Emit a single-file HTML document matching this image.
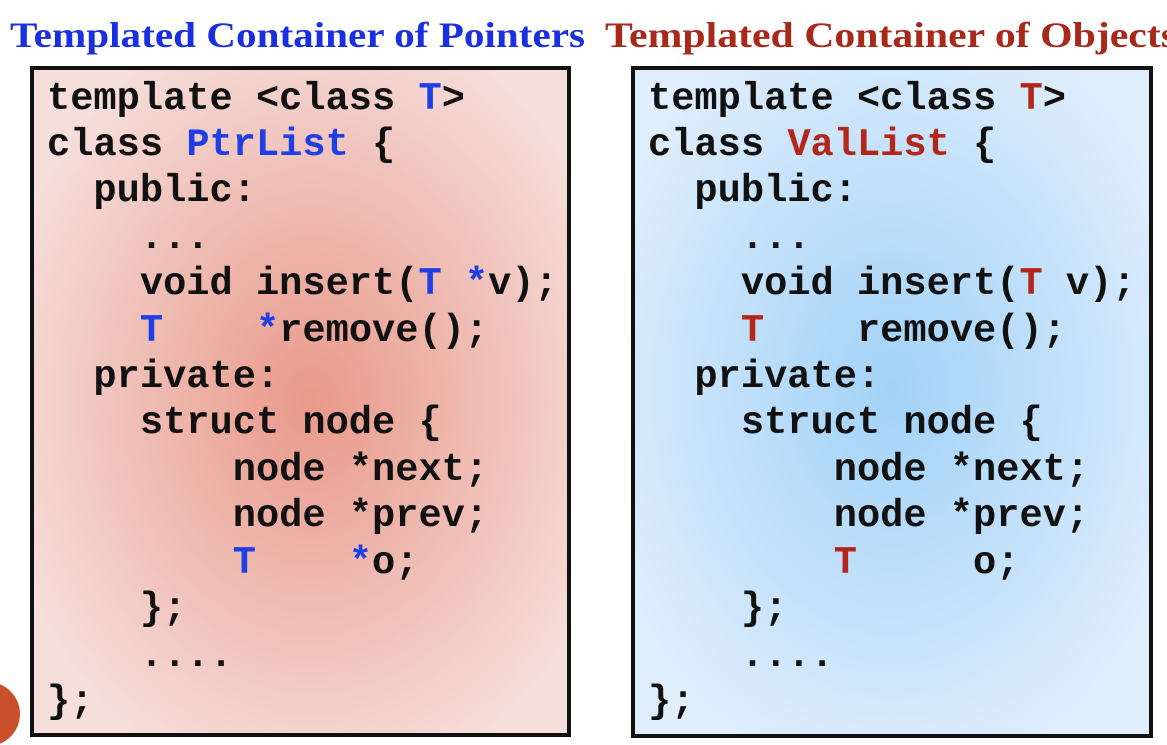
<!DOCTYPE html>
<html><head><meta charset="utf-8"><style>
html,body{margin:0;padding:0;background:#fff;}
svg{display:block}
.c{font-family:"Liberation Mono",monospace;font-weight:bold;font-size:38.7px;fill:#111}
.b{fill:#1f3fe6}.r{fill:#b3271a}
.t{font-family:"Liberation Serif",serif;font-weight:bold;font-size:36px}
</style></head><body>
<svg width="1167" height="745" viewBox="0 0 1167 745" xmlns="http://www.w3.org/2000/svg">
<defs>
<radialGradient id="pk" cx="0.52" cy="0.5" r="0.6">
<stop offset="0" stop-color="#e9998a"/><stop offset="0.6" stop-color="#f0c2ba"/><stop offset="1" stop-color="#f6dedb"/>
</radialGradient>
<radialGradient id="bl" cx="0.5" cy="0.48" r="0.6">
<stop offset="0" stop-color="#a2d2f7"/><stop offset="0.6" stop-color="#c6e2fa"/><stop offset="1" stop-color="#e0eefc"/>
</radialGradient>
</defs>
<text class="t" x="10" y="47" textLength="575" lengthAdjust="spacingAndGlyphs" fill="#1a2fe0">Templated Container of Pointers</text>
<text class="t" x="605" y="47" textLength="572" lengthAdjust="spacingAndGlyphs" fill="#a8281a">Templated Container of Objects</text>
<circle cx="-12" cy="714" r="32" fill="#c8502a"/>
<rect x="32" y="68" width="537" height="667" fill="url(#pk)" stroke="#111" stroke-width="4"/>
<rect x="633" y="68" width="518" height="668" fill="url(#bl)" stroke="#111" stroke-width="4"/>
<g class="c">
<text x="47" y="109">template &lt;class <tspan class="b">T</tspan>&gt;</text>
<text x="47" y="155">class <tspan class="b">PtrList</tspan> {</text>
<text x="47" y="201">&#160;&#160;public:</text>
<text x="47" y="248">&#160;&#160;&#160;&#160;...</text>
<text x="47" y="294">&#160;&#160;&#160;&#160;void insert(<tspan class="b">T&#160;*</tspan>v);</text>
<text x="47" y="341">&#160;&#160;&#160;&#160;<tspan class="b">T&#160;&#160;&#160;&#160;*</tspan>remove();</text>
<text x="47" y="387">&#160;&#160;private:</text>
<text x="47" y="433">&#160;&#160;&#160;&#160;struct node {</text>
<text x="47" y="480">&#160;&#160;&#160;&#160;&#160;&#160;&#160;&#160;node *next;</text>
<text x="47" y="526">&#160;&#160;&#160;&#160;&#160;&#160;&#160;&#160;node *prev;</text>
<text x="47" y="573">&#160;&#160;&#160;&#160;&#160;&#160;&#160;&#160;<tspan class="b">T&#160;&#160;&#160;&#160;*</tspan>o;</text>
<text x="47" y="619">&#160;&#160;&#160;&#160;};</text>
<text x="47" y="666">&#160;&#160;&#160;&#160;....</text>
<text x="47" y="712">};</text>

<text x="648" y="109">template &lt;class <tspan class="r">T</tspan>&gt;</text>
<text x="648" y="155">class <tspan class="r">ValList</tspan> {</text>
<text x="648" y="201">&#160;&#160;public:</text>
<text x="648" y="248">&#160;&#160;&#160;&#160;...</text>
<text x="648" y="294">&#160;&#160;&#160;&#160;void insert(<tspan class="r">T</tspan>&#160;v);</text>
<text x="648" y="341">&#160;&#160;&#160;&#160;<tspan class="r">T</tspan>&#160;&#160;&#160;&#160;remove();</text>
<text x="648" y="387">&#160;&#160;private:</text>
<text x="648" y="433">&#160;&#160;&#160;&#160;struct node {</text>
<text x="648" y="480">&#160;&#160;&#160;&#160;&#160;&#160;&#160;&#160;node *next;</text>
<text x="648" y="526">&#160;&#160;&#160;&#160;&#160;&#160;&#160;&#160;node *prev;</text>
<text x="648" y="573">&#160;&#160;&#160;&#160;&#160;&#160;&#160;&#160;<tspan class="r">T</tspan>&#160;&#160;&#160;&#160;&#160;o;</text>
<text x="648" y="619">&#160;&#160;&#160;&#160;};</text>
<text x="648" y="666">&#160;&#160;&#160;&#160;....</text>
<text x="648" y="712">};</text>
</g>
</svg>
</body></html>
